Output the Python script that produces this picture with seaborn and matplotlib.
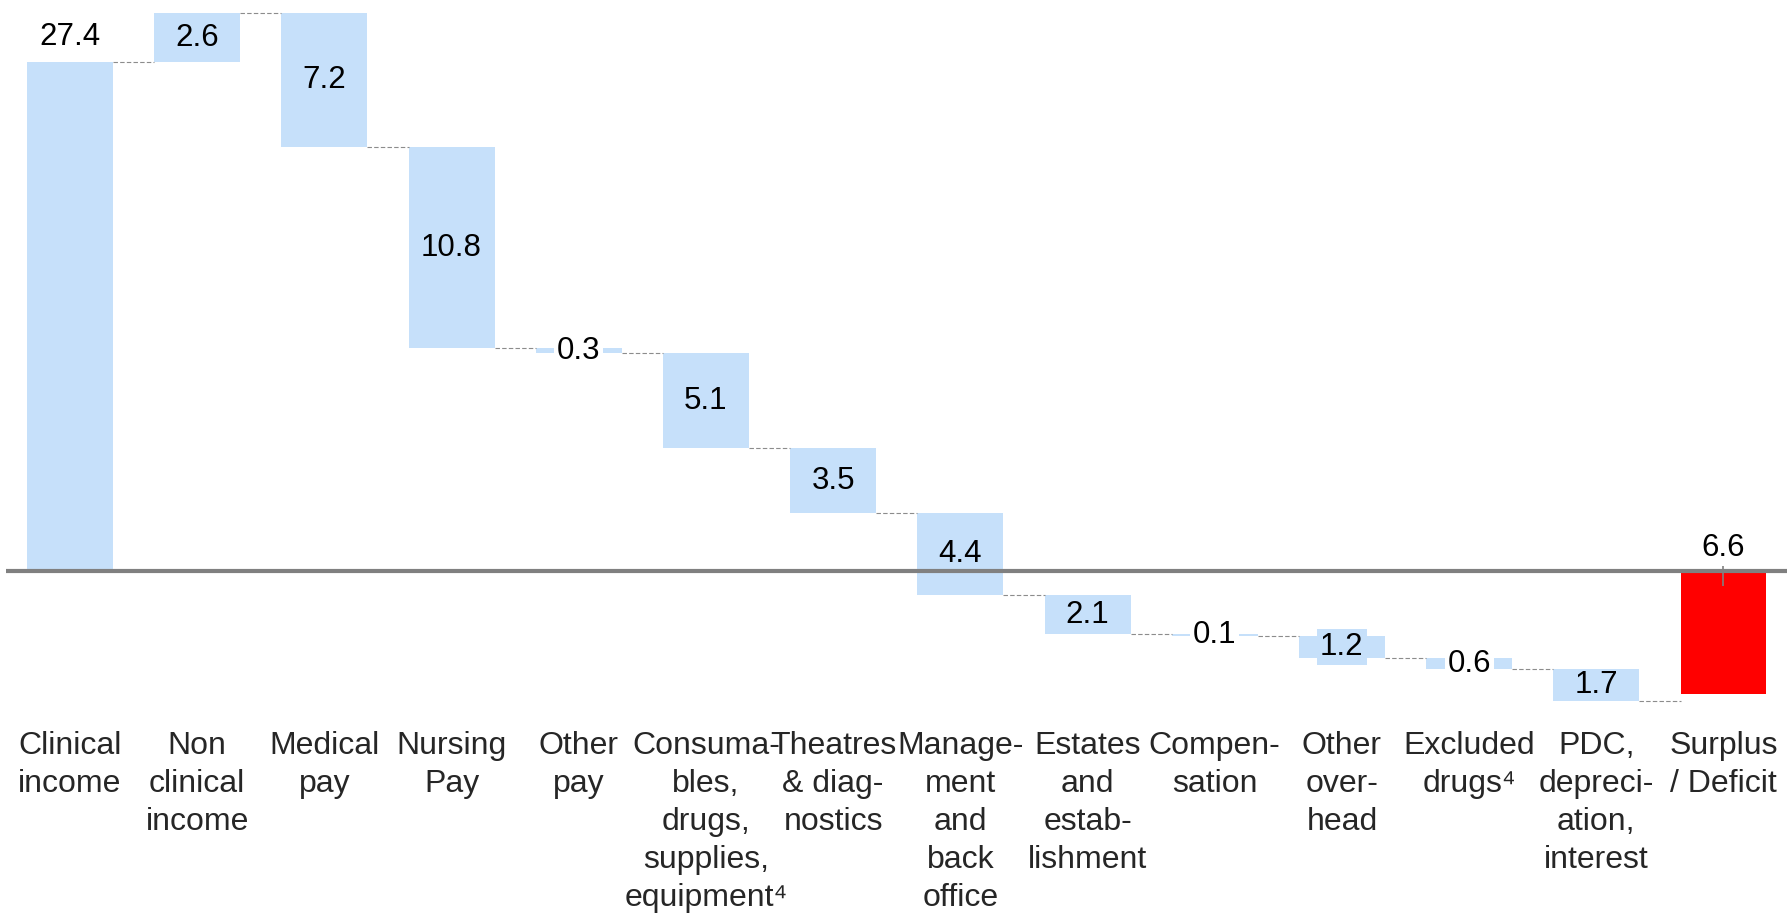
import numpy as np
import pandas as pd
import matplotlib
matplotlib.use("Agg")
import matplotlib.pyplot as plt
import seaborn as sns

categories = [
    "Clinical\nincome", "Non\nclinical\nincome", "Medical\npay", "Nursing\nPay",
    "Other\npay", "Consuma-\nbles,\ndrugs,\nsupplies,\nequipment\u2074",
    "Theatres\n& diag-\nnostics", "Manage-\nment\nand\nback\noffice",
    "Estates\nand\nestab-\nlishment", "Compen-\nsation", "Other\nover-\nhead",
    "Excluded\ndrugs\u2074", "PDC,\ndepreci-\nation,\ninterest", "Surplus\n/ Deficit",
]
changes = [27.4, 2.6, -7.2, -10.8, -0.3, -5.1, -3.5, -4.4, -2.1, -0.1, -1.2, -0.6, -1.7]
total_value = -6.6
value_labels = ["27.4", "2.6", "7.2", "10.8", "0.3", "5.1", "3.5", "4.4", "2.1",
                "0.1", "1.2", "0.6", "1.7", "6.6"]

LIGHT = "#C6E0FA"
RED = "#FF0000"
FONT = ["Liberation Sans", "DejaVu Sans"]

sns.set_theme(style="white")
plt.rcParams["font.family"] = FONT

# waterfall geometry from data
ends = np.cumsum(changes)
starts = np.concatenate([[0.0], ends[:-1]])
bottoms = list(np.minimum(starts, ends)) + [min(0.0, total_value)]
heights = list(np.abs(changes)) + [abs(total_value)]
keys = [f"c{i}" for i in range(len(categories))]
df = pd.DataFrame({"cat": keys, "height": heights})

fig = plt.figure(figsize=(17.89, 9.19), dpi=100)
ax = fig.add_axes([0, 0.211, 1, 0.789])

sns.barplot(data=df, x="cat", y="height", order=keys, color=LIGHT, width=0.676,
            bottom=bottoms, errorbar=None, saturation=1, ax=ax, zorder=2,
            linewidth=0)
patches = ax.patches
for p, b, h in zip(patches, bottoms, heights):
    p.set_y(b)
    p.set_height(h)
    p.set_facecolor(LIGHT)
patches[-1].set_facecolor(RED)

ax.set_xlim(-0.55, 13.515)
ax.set_ylim(-8.30, 30.72)
for s in ax.spines.values():
    s.set_visible(False)
ax.set_yticks([])
ax.set_ylabel("")
ax.set_xlabel("")
ax.set_xticks(range(len(categories)))
ax.set_xticklabels(categories, fontsize=23, linespacing=1.35, va="top")
ax.tick_params(axis="x", length=0, pad=4)
ax.grid(False)

# baseline
ax.hlines(0, -0.5, len(categories) - 0.5, color="#808080", lw=3.0, zorder=4)

# connectors
half = 0.676 / 2
levels = list(ends)
for i in range(len(categories) - 1):
    ax.hlines(levels[i], i + half, i + 1 - half, color="#8c8c8c", lw=0.8,
              linestyles=(0, (4, 2)), zorder=3)

# value labels
for i, (lbl, b, h) in enumerate(zip(value_labels, bottoms, heights)):
    mid = b + h / 2
    if i == 0:
        ax.annotate(lbl, xy=(i, b + h), xytext=(0, 17.5), textcoords="offset points",
                    ha="center", va="center", fontsize=22.5, color="black")
    elif i == len(categories) - 1:
        ax.annotate(lbl, xy=(i, 0), xytext=(0, 16.5), textcoords="offset points",
                    ha="center", va="center", fontsize=22.5, color="black", zorder=6)
        ax.vlines(i, -0.12 * h, 0.25, color="#808080", lw=1.2, zorder=5)
    else:
        bbox = None
        if h < 1.0:
            bbox = dict(facecolor="white", edgecolor="none", pad=2)
        elif h < 1.5:
            bbox = dict(facecolor=LIGHT, edgecolor="none", pad=2)
        ax.text(i, mid, lbl, ha="center", va="center", fontsize=22.5, color="black",
                bbox=bbox, zorder=5)

fig.savefig("out.png", dpi=100)
